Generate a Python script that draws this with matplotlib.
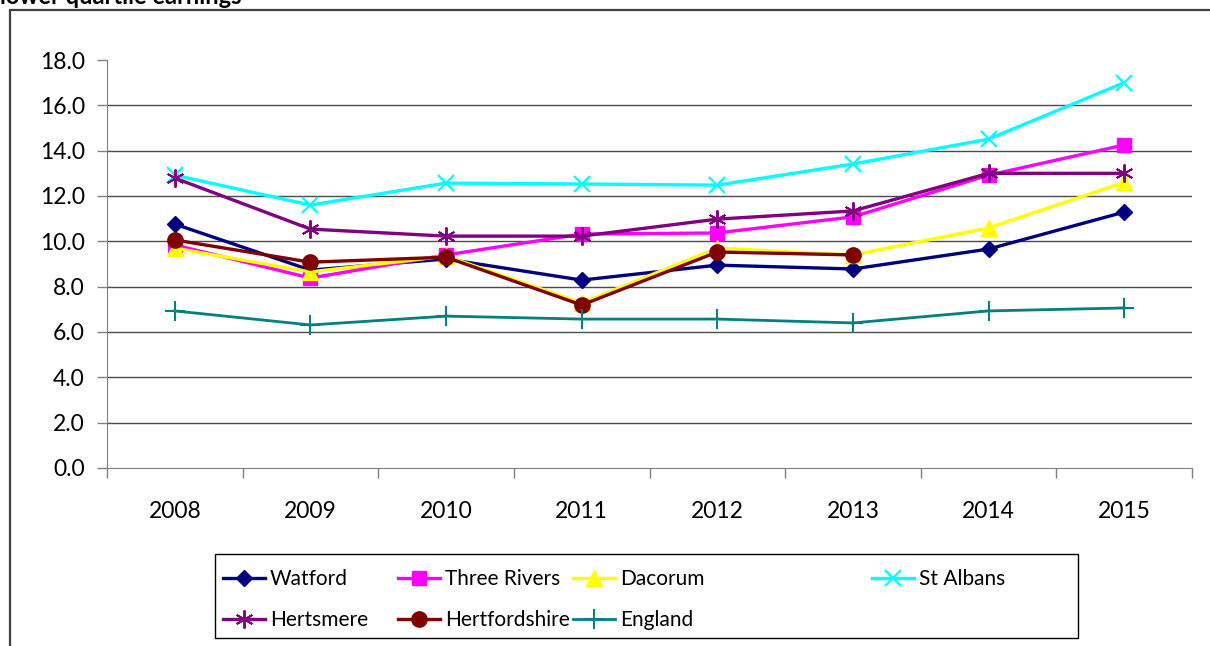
import numpy as np
import matplotlib
matplotlib.use("Agg")
import matplotlib.pyplot as plt
from matplotlib.patches import Rectangle

plt.rcParams['font.family'] = ['Lato', 'DejaVu Sans']

years = ['2008', '2009', '2010', '2011', '2012', '2013', '2014', '2015']
watford = [10.76, 8.73, 9.22, 8.29, 8.95, 8.78, 9.66, 11.29]
three_rivers = [9.84, 8.38, 9.40, 10.32, 10.37, 11.08, 12.92, 14.25]
dacorum = [9.70, 8.65, 9.35, 7.28, 9.70, 9.40, 10.59, 12.60]
st_albans = [12.92, 11.60, 12.57, 12.53, 12.48, 13.41, 14.51, 17.00]
hertsmere = [12.79, 10.54, 10.23, 10.23, 10.98, 11.34, 13.00, 13.00]
hertfordshire = [10.06, 9.08, 9.30, 7.19, 9.53, 9.40, np.nan, np.nan]
england = [6.93, 6.31, 6.70, 6.57, 6.57, 6.40, 6.93, 7.06]
yticks = [0, 2, 4, 6, 8, 10, 12, 14, 16, 18]

W, H = 1210, 646
fig = plt.figure(figsize=(W / 100, H / 100), dpi=100)
ax = fig.add_axes([107 / W, 1 - 468 / H, (1192 - 107) / W, (468 - 60) / H])

x = np.arange(len(years)) + 0.5

series = [
    ('Watford', watford, dict(color='#000080', marker='D', ms=8, lw=2.4)),
    ('Three Rivers', three_rivers, dict(color='#FF00FF', marker='s', ms=10.5, lw=2.4)),
    ('Dacorum', dacorum, dict(color='#FFFF00', marker='^', ms=11, lw=2.4)),
    ('St Albans', st_albans, dict(color='#00FFFF', marker='x', ms=12, mew=1.6, lw=2.4)),
    ('Hertsmere', hertsmere, dict(color='#800080', marker=(6, 2, 0), ms=13, mew=1.4, lw=2.4)),
    ('Hertfordshire', hertfordshire, dict(color='#800000', marker='o', ms=11, lw=2.4)),
    ('England', england, dict(color='#008080', marker='+', ms=14, mew=1.5, lw=2.0)),
]

handles = {}
for name, vals, kw in series:
    ln, = ax.plot(x, vals, label=name, clip_on=False, **kw)
    handles[name] = ln

ax.set_xlim(0, len(years))
ax.set_ylim(0, 18)
ax.set_yticks(yticks)
ax.set_yticklabels([f'{v:.1f}' for v in yticks])
for v in yticks[1:-1]:
    ax.axhline(v, color='#4a4a4a', lw=1.0, zorder=0)

ax.set_xticks(x)
ax.set_xticklabels(years)
ax.set_xticks(np.arange(len(years) + 1), minor=True)
ax.tick_params(axis='x', which='major', length=0, pad=24, labelsize=16.5)
ax.tick_params(axis='x', which='minor', length=7, width=1, color='#808080', direction='out')
ax.tick_params(axis='y', length=7, width=1, color='#808080', direction='out', pad=9, labelsize=16.5)

for s in ['top', 'right']:
    ax.spines[s].set_visible(False)
ax.spines['left'].set_color('#808080')
ax.spines['bottom'].set_color('#808080')

# Outer chart frame
fig.patches.append(Rectangle((10 / W, -0.1), 1.2, 1 - 10 / H + 0.1,
                             transform=fig.transFigure, fill=False,
                             edgecolor='#404040', lw=1.6))

# Title (partly cut off at top)
fig.text(0.0, 1 - 4 / H, 'lower quartile earnings', fontsize=17, fontweight='bold',
         va='baseline', ha='left')

# Legend frame
lx0, ly0, lx1, ly1 = 215, 554, 1078, 638
fig.patches.append(Rectangle((lx0 / W, 1 - ly1 / H), (lx1 - lx0) / W, (ly1 - ly0) / H,
                             transform=fig.transFigure, fill=False,
                             edgecolor='black', lw=1.0))

columns = [
    (223, ['Watford', 'Hertsmere']),
    (398, ['Three Rivers', 'Hertfordshire']),
    (573, ['Dacorum', 'England']),
    (872, ['St Albans']),
]
for cx, names in columns:
    fig.legend([handles[n] for n in names], names,
               loc='upper left', bbox_to_anchor=(cx / W, 1 - 569 / H),
               frameon=False, fontsize=15, handlelength=2.0,
               handletextpad=0.25, labelspacing=1.0, borderpad=0,
               borderaxespad=0)

fig.savefig('out.png', dpi=100)
